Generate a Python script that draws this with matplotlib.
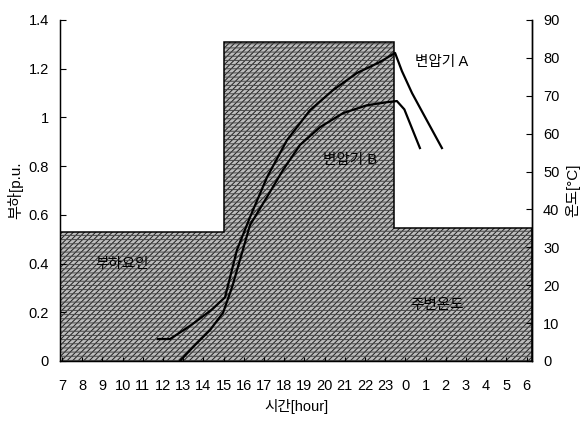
import matplotlib
matplotlib.use('Agg')
import matplotlib.pyplot as plt
from matplotlib.ticker import FuncFormatter

plt.rcParams['font.family'] = ['Liberation Sans', 'Noto Sans CJK KR']
plt.rcParams['hatch.linewidth'] = 0.7

# hour labels along the x axis (day runs from 7 to 6 next morning)
hours = [7, 8, 9, 10, 11, 12, 13, 14, 15, 16, 17, 18, 19, 20, 21, 22, 23,
         0, 1, 2, 3, 4, 5, 6]

# load profile [p.u.] as steps, x in hours counted from 07:00
load_edges = [-0.1, 8.0, 16.45, 23.27]
load_level = [0.53, 1.31, 0.545]

# transformer temperatures [deg C]
tA_x = [4.75, 5.35, 6.4, 7.4, 8.07, 8.66, 9.31, 10.15, 11.14, 12.28, 13.42,
        14.6, 15.74, 16.49, 16.83, 17.33, 17.87, 18.81]
tA_y = [5.8, 5.8, 9.5, 13.5, 16.8, 29.3, 38.0, 48.5, 58.3, 66.2, 71.5,
        76.0, 78.9, 81.3, 76.5, 70.7, 65.4, 56.2]

tB_x = [5.84, 6.49, 7.33, 7.97, 8.42, 9.31, 10.15, 10.94, 11.78, 12.77,
        13.91, 15.1, 16.09, 16.58, 16.95, 17.72]
tB_y = [0.0, 3.7, 8.2, 12.7, 19.5, 35.9, 43.3, 50.4, 57.0, 61.7,
        65.4, 67.5, 68.3, 68.6, 66.4, 56.2]

fig = plt.figure(figsize=(5.85, 4.25), dpi=100)
ax = fig.add_axes([0.1026, 0.1506, 0.8068, 0.8024])

# grey base plus two hatch layers (diagonals and short dashes)
ax.stairs(load_level, load_edges, baseline=0, fill=True,
          facecolor='#bdbdbd', edgecolor='#1e1e1e', linewidth=0,
          hatch='//////')
ax.stairs(load_level, load_edges, baseline=0, fill=True,
          facecolor='none', edgecolor='#4a4a4a', linewidth=0,
          hatch='----')
ax.stairs(load_level, load_edges, baseline=0, fill=False,
          color='black', linewidth=1.1)

ax.set_xlim(-0.1, 23.27)
ax.set_ylim(0, 1.4)
ax.set_xticks(range(len(hours)))
ax.set_xticklabels([str(h) for h in hours])
ax.set_yticks([0, 0.2, 0.4, 0.6, 0.8, 1.0, 1.2, 1.4])
ax.yaxis.set_major_formatter(FuncFormatter(lambda v, p: f'{v:g}'))

ax.spines['top'].set_visible(False)
for s in ['left', 'right', 'bottom']:
    ax.spines[s].set_linewidth(1.0)

ax.tick_params(axis='x', direction='in', length=3, pad=13, labelsize=10.5)
ax.tick_params(axis='y', direction='in', length=4, pad=8, labelsize=10.5)

ax.set_xlabel('시간[hour]', fontsize=10.5, labelpad=4)
ax.set_ylabel('부하[p.u.', fontsize=11, labelpad=4)

ax.text(2.97, 0.40, '부하요인', fontsize=10.5, ha='center', va='center')
ax.text(14.26, 0.825, '변압기 B', fontsize=10.5, ha='center', va='center')
ax.text(18.8, 1.227, '변압기 A', fontsize=10.5, ha='center', va='center')
ax.text(18.56, 0.23, '주변온도', fontsize=10.5, ha='center', va='center')

# temperature curves on the right-hand axis
ax2 = ax.twinx()
ax2.set_ylim(0, 90)
ax2.set_yticks(range(0, 91, 10))
ax2.spines['top'].set_visible(False)
ax2.spines['right'].set_linewidth(1.0)
ax2.tick_params(axis='y', direction='in', length=4, pad=8, labelsize=10.5)
ax2.set_ylabel('온도[°C]', fontsize=11, labelpad=4)

ax2.plot(tA_x, tA_y, color='black', linewidth=1.6)
ax2.plot(tB_x, tB_y, color='black', linewidth=1.6)

fig.savefig('out.png', dpi=100)
